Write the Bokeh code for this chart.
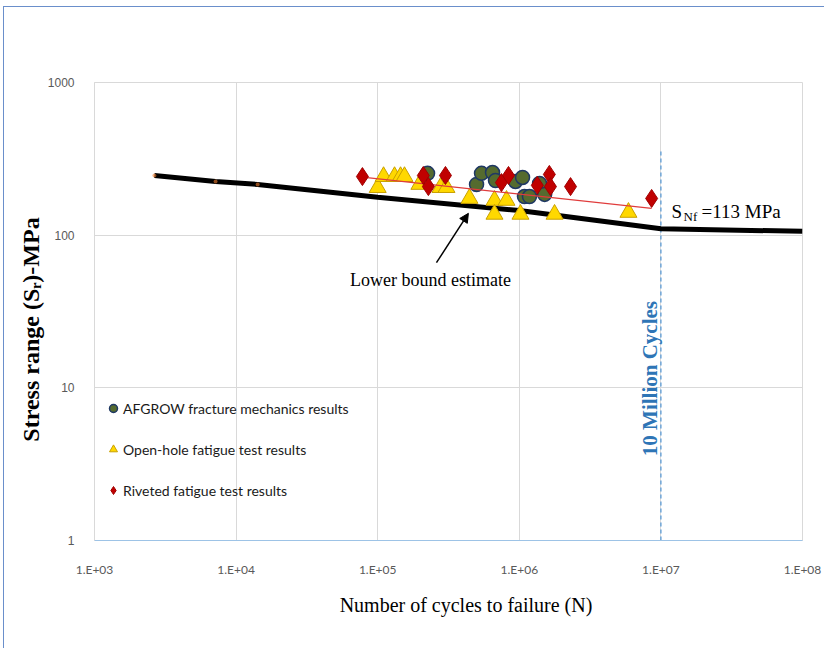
import math
from bokeh.plotting import figure
from bokeh.models import FixedTicker, Legend, LegendItem, Arrow, NormalHead
from bokeh.core.properties import value
from bokeh.embed import file_html
from bokeh.resources import INLINE

# ---------------- data ----------------
afgrow_n = [2.25e5, 4.99e5, 5.41e5, 6.47e5, 6.79e5, 9.40e5, 1.054e6, 1.088e6, 1.18e6, 1.39e6, 1.51e6]
afgrow_s = [254, 215, 254, 257, 228, 225, 239, 179, 179, 218, 185]

openhole_n = [1.0e5, 1.10e5, 1.315e5, 1.45e5, 1.546e5, 1.97e5, 2.775e5, 3.06e5,
              4.447e5, 6.68e5, 8.12e5, 6.68e5, 1.019e6, 1.774e6, 5.9e6]
openhole_s = [205, 242, 242, 242, 242, 215, 205, 205, 174, 169, 169, 137, 137, 137, 141]

riveted_n = [7.8e4, 2.10e5, 2.28e5, 3.01e5, 7.48e5, 8.39e5, 1.34e6, 1.63e6, 1.66e6, 2.30e6, 8.6e6]
riveted_s = [242, 246, 208, 246, 221, 246, 212, 250, 208, 208, 174]

riveted_trend_n = [7.8e4, 8.6e6]
riveted_trend_s = [240, 150]

lower_bound_n = [2650, 7160, 14200, 1e5, 1e6, 1e7, 1e8]
lower_bound_s = [246, 225, 215, 177, 145, 110, 106]
lower_marker_n = [2650, 7160, 14200]
lower_marker_s = [246, 225, 215]

ten_million_n = [1e7, 1e7]
ten_million_s = [1, 370]

x_tick_vals = [1e3, 1e4, 1e5, 1e6, 1e7, 1e8]
x_tick_labels = ["1.E+03", "1.E+04", "1.E+05", "1.E+06", "1.E+07", "1.E+08"]
y_tick_vals = [1, 10, 100, 1000]
y_tick_labels = ["1", "10", "100", "1000"]

series_names = ["AFGROW fracture mechanics results",
                "Open-hole fatigue test results",
                "Riveted fatigue test results"]

# annotation anchors (data coordinates)
arrow_start = (2.6e5, 66)
arrow_end = (4.37e5, 139)
lower_text_pos = (2.36e5, 50.5)
snf_pos = (1.19e7, 143)
tenm_text_pos = (8.44e6, 11.5)

# ---------------- figure ----------------
p = figure(x_axis_type="log", y_axis_type="log",
           x_range=(1e3, 1e8), y_range=(1, 1000),
           frame_width=708, frame_height=458,
           min_border_left=90, min_border_right=22,
           min_border_top=75, min_border_bottom=108,
           output_backend="svg", toolbar_location=None, tools="")
p.background_fill_color = "white"
p.border_fill_color = "white"
p.outline_line_color = "#D9D9D9"
p.styles = {"margin-left": "3px", "margin-top": "6px",
            "border-left": "1.5px solid #6A8FCB", "border-top": "1.5px solid #6A8FCB"}

# axes
xa = p.xaxis[0]
xa.ticker = FixedTicker(ticks=x_tick_vals)
xa.major_label_overrides = {v: l for v, l in zip(x_tick_vals, x_tick_labels)}
xa.axis_label = "\u00a0" * 7 + "Number of cycles to failure (N)"
xa.axis_label_text_font = "Liberation Serif"
xa.axis_label_text_font_style = "normal"
xa.axis_label_text_font_size = "20px"
xa.axis_label_text_color = "#000000"
xa.axis_label_standoff = 14
xa.major_label_text_font = "Lato"
xa.major_label_text_font_size = "12px"
xa.major_label_text_color = "#595959"
xa.major_label_standoff = 15
xa.axis_line_color = "#9DC3E6"
xa.major_tick_line_color = None
xa.minor_tick_line_color = None

ya = p.yaxis[0]
ya.ticker = FixedTicker(ticks=y_tick_vals)
ya.major_label_overrides = {v: l for v, l in zip(y_tick_vals, y_tick_labels)}
ya.axis_label = "Stress range (S\u1d63)-MPa" + "\u00a0" * 6
ya.axis_label_text_font = "Liberation Serif"
ya.axis_label_text_font_style = "bold"
ya.axis_label_text_font_size = "24px"
ya.axis_label_text_color = "#000000"
ya.axis_label_standoff = 1
ya.major_label_text_font = "Liberation Sans"
ya.major_label_text_font_size = "12px"
ya.major_label_text_color = "#595959"
ya.major_label_standoff = 14
ya.axis_line_color = "#D9D9D9"
ya.major_tick_line_color = None
ya.minor_tick_line_color = None

p.xgrid.ticker = FixedTicker(ticks=x_tick_vals)
p.ygrid.ticker = FixedTicker(ticks=y_tick_vals)
p.xgrid.grid_line_color = "#D9D9D9"
p.ygrid.grid_line_color = "#D9D9D9"

# 10 million cycles dashed line
p.line(ten_million_n, ten_million_s, line_color="#5B9BD5", line_width=1.3, line_dash="4 3")

# lower bound
p.line(lower_bound_n, lower_bound_s, line_color="black", line_width=5)
p.scatter(lower_marker_n, lower_marker_s, marker="circle", size=4,
          fill_color="#ED7D31", line_color=None, fill_alpha=0.6)

# open-hole triangles
r_open = p.scatter(openhole_n, openhole_s, marker="triangle", size=17,
                   fill_color="#FFD800", line_color="#C9A000", line_width=1)
# AFGROW circles
r_af = p.scatter(afgrow_n, afgrow_s, marker="circle", size=14,
                 fill_color="#556B2F", line_color="#1F3864", line_width=1.5)
# riveted trend line
p.line(riveted_trend_n, riveted_trend_s, line_color="#E03C3C", line_width=1.2)
# riveted diamonds
r_riv = p.scatter(riveted_n, riveted_s, marker="diamond", size=18,
                  fill_color="#C00000", line_color="#A00000", line_width=1)

# legend
legend = Legend(items=[LegendItem(label=series_names[0], renderers=[r_af]),
                       LegendItem(label=series_names[1], renderers=[r_open]),
                       LegendItem(label=series_names[2], renderers=[r_riv])],
                location=(9, 38), orientation="vertical",
                glyph_width=20, glyph_height=24, label_height=24,
                spacing=17, label_standoff=0, padding=0, margin=0,
                border_line_color=None, background_fill_alpha=0,
                label_text_font="Lato", label_text_font_size="14px",
                label_text_color="#1A1A1A")
p.add_layout(legend, "center")

# annotations
p.add_layout(Arrow(x_start=arrow_start[0], y_start=arrow_start[1],
                   x_end=arrow_end[0], y_end=arrow_end[1],
                   line_color="black", line_width=1.5,
                   end=NormalHead(size=9, fill_color="black", line_color="black")))

p.text(x=[lower_text_pos[0]], y=[lower_text_pos[1]], text=["Lower bound estimate"],
       text_font=value("Liberation Serif"), text_font_size="18px",
       text_align="center", text_baseline="middle", text_color="black")

p.text(x=[snf_pos[0]], y=[snf_pos[1]], text=["S"],
       text_font=value("Liberation Serif"), text_font_size="19px",
       text_align="left", text_baseline="middle", text_color="black")
p.text(x=[snf_pos[0]], y=[snf_pos[1]], text=["Nf"], x_offset=12, y_offset=5,
       text_font=value("Liberation Serif"), text_font_size="13px",
       text_align="left", text_baseline="middle", text_color="black")
p.text(x=[snf_pos[0]], y=[snf_pos[1]], text=["=113 MPa"], x_offset=30,
       text_font=value("Liberation Serif"), text_font_size="19px",
       text_align="left", text_baseline="middle", text_color="black")

p.text(x=[tenm_text_pos[0]], y=[tenm_text_pos[1]], text=["10 Million Cycles"],
       angle=math.pi / 2, text_font=value("Liberation Serif"), text_font_size="21px",
       text_font_style="bold", text_align="center", text_baseline="middle",
       text_color="#2E75B6")

open("out.html", "w").write(file_html(p, INLINE))
